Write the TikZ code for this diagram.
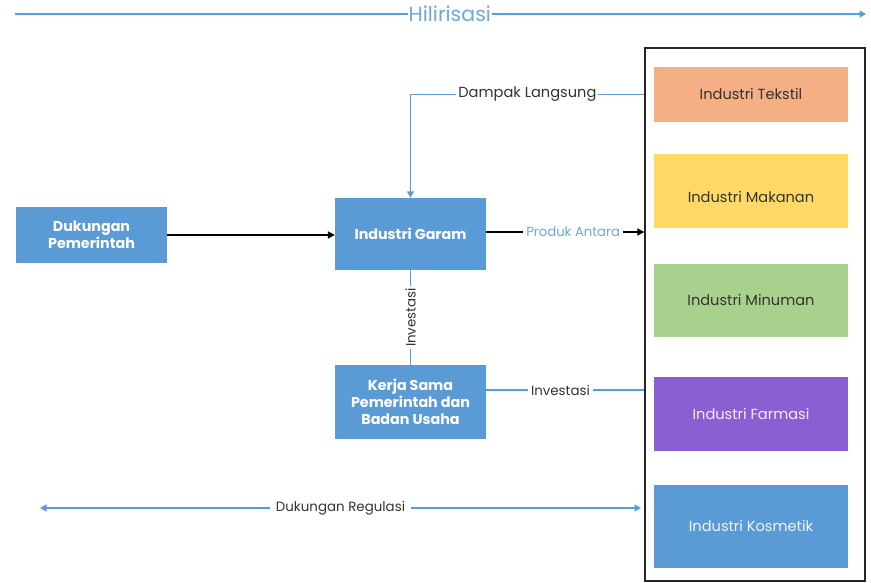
\documentclass[tikz,border=0pt]{standalone}
\usepackage{fontspec}
\setmainfont{Poppins}
\usetikzlibrary{arrows.meta}
\definecolor{boxblue}{HTML}{5B9BD5}
\definecolor{lineblue}{HTML}{5B9BD5}
\definecolor{labelblue}{HTML}{6FA8DC}
\definecolor{textdark}{HTML}{333333}
\definecolor{peach}{HTML}{F4AF84}
\definecolor{yellowbox}{HTML}{FFD966}
\definecolor{greenbox}{HTML}{A9D18E}
\definecolor{purplebox}{HTML}{8A5FD1}
\tikzset{
  mainbox/.style={draw=none, fill=boxblue, text=white, font=\bfseries\fontsize{14.3}{17}\selectfont,
    align=center, inner sep=0pt},
  indbox/.style={draw=none, inner sep=0pt, minimum width=194pt, font=\fontsize{14.6}{17}\selectfont},
  bluelink/.style={draw=lineblue, line width=1.9pt},
  blacklink/.style={draw=black, line width=1.8pt},
  linklabel/.style={fill=white, text=textdark, inner sep=3pt, font=\fontsize{13.4}{15}\selectfont},
  bluetip/.style={-{Triangle[width=7pt,length=6.5pt]}},
  blacktip/.style={-{Triangle[width=7pt,length=7pt]}},
}
\begin{document}
\begin{tikzpicture}[x=1pt,y=-1pt]
\useasboundingbox (0,0) rectangle (871,583);

% central boxes
\node[mainbox, minimum width=151pt, minimum height=56pt] (dukungan) at (91.5,235) {Dukungan\\Pemerintah};
\node[mainbox, minimum width=151pt, minimum height=72pt] (garam) at (410.5,234) {Industri Garam};
\node[mainbox, minimum width=151pt, minimum height=74pt] (kerja) at (410.5,402) {Kerja Sama\\Pemerintah dan\\Badan Usaha};

% frame holding the downstream industries
\node[draw=black!85, line width=1.4pt, minimum width=220pt, minimum height=533pt, inner sep=0pt] (frame) at (755,314.5) {};
\node[indbox, fill=peach, minimum height=55pt, text=textdark] (tekstil) at (751,94.5) {Industri Tekstil};
\node[indbox, fill=yellowbox, minimum height=74pt] (makanan) at (751,191) {};
\node[indbox, text=textdark] (makanantext) at (751,197) {Industri Makanan};
\node[indbox, fill=greenbox, minimum height=73pt, text=textdark] (minuman) at (751,300.5) {Industri Minuman};
\node[indbox, fill=purplebox, minimum height=74pt, text=white!90!purplebox] (farmasi) at (751,414) {Industri Farmasi};
\node[indbox, fill=boxblue, minimum height=83pt, text=white!90!boxblue] (kosmetik) at (751,526.5) {Industri Kosmetik};

% free ends of the long arrows
\coordinate (hilL) at (15,14);
\coordinate (hilR) at (866,14);
\coordinate (regL) at (40,508);
\coordinate (regR) at (641,508);

% Hilirisasi
\draw[bluelink, bluetip] (hilL) -- node[pos=0.511, fill=white, inner sep=1pt, text=labelblue,
  font=\fontsize{20.5}{22}\selectfont] (hillabel) {Hilirisasi} (hilR);

% Dukungan Pemerintah -> Industri Garam
\draw[blacklink, blacktip] (dukungan.east) -- (dukungan.east -| garam.west);

% Industri Garam -> industries
\draw[blacklink, blacktip] ([yshift=2pt]garam.east) --
  node[pos=0.55, fill=white, inner sep=3pt, text=labelblue, font=\fontsize{13.2}{15}\selectfont] (produk) {Produk Antara}
  ([yshift=2pt]garam.east -| frame.west);

% Dampak Langsung
\draw[bluelink, bluetip] (frame.west |- tekstil.center) --
  node[linklabel, inner sep=2pt, font=\fontsize{14.6}{16}\selectfont] (dampak) {Dampak Langsung}
  (garam.north |- tekstil.center) -- (garam.north);

% Investasi (vertical)
\draw[bluelink] (garam.south) -- node[linklabel, inner sep=2pt, rotate=90] (inv1) {Investasi} (kerja.north);

% Investasi (horizontal)
\draw[bluelink] ([yshift=12pt]kerja.east) -- node[pos=0.47, linklabel] (inv2) {Investasi} ([yshift=12pt]kerja.east -| frame.west);

% Dukungan Regulasi
\draw[bluelink, {Triangle[width=7pt,length=6.5pt]}-{Triangle[width=7pt,length=6.5pt]}] (regL) --
  node[linklabel, inner sep=6pt] (regulasi) {Dukungan Regulasi} (regR);
\end{tikzpicture}
\end{document}
